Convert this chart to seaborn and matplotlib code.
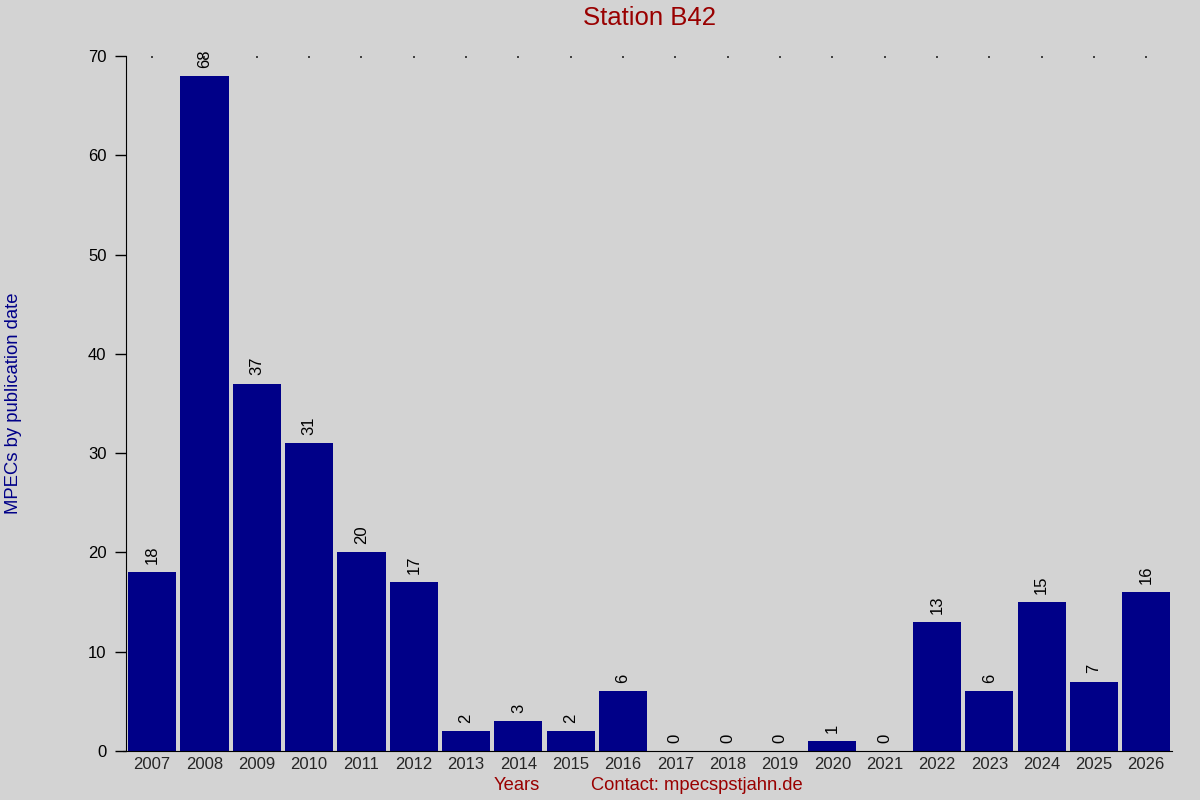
import matplotlib
matplotlib.use("Agg")
import matplotlib.pyplot as plt
import seaborn as sns
import pandas as pd

# --- Data ---
YEARS = ["2007", "2008", "2009", "2010", "2011", "2012", "2013", "2014", "2015", "2016",
         "2017", "2018", "2019", "2020", "2021", "2022", "2023", "2024", "2025", "2026"]
MPECS = [18, 68, 37, 31, 20, 17, 2, 3, 2, 6, 0, 0, 0, 1, 0, 13, 6, 15, 7, 16]
Y_TICKS = [0, 10, 20, 30, 40, 50, 60, 70]

TITLE = "Station B42"
Y_LABEL = "MPECs by publication date"
X_LABEL = "Years"
CONTACT = "Contact: mpecspstjahn.de"

BG = "#d3d3d3"
BAR = "#000088"
RED = "#990000"


def main() -> None:
    sns.set_style("ticks")
    plt.rcParams["font.family"] = ["Liberation Sans", "DejaVu Sans"]

    df = pd.DataFrame({"year": YEARS, "count": MPECS})

    fig = plt.figure(figsize=(12, 8), dpi=100, facecolor=BG)
    ax = fig.add_axes([0.105, 0.06125, 0.872, 0.86875])
    ax.set_facecolor(BG)

    sns.barplot(data=df, x="year", y="count", order=YEARS, color=BAR,
                saturation=1, width=0.92, linewidth=0, ax=ax)

    for container in ax.containers:
        ax.bar_label(container, rotation=90, padding=6, fontsize=12, color="black")

    ax.set_ylim(0, 70)
    ax.set_xlim(-0.5, len(YEARS) - 0.5)
    ax.set_yticks(Y_TICKS)
    ax.tick_params(axis="y", length=8, width=1, labelsize=12, pad=6, colors="black")
    ax.tick_params(axis="x", labelsize=12, pad=4, top=True, bottom=False,
                   direction="in", length=1.2, width=1.2)

    for side in ("top", "right"):
        ax.spines[side].set_visible(False)
    ax.spines["left"].set_color("black")
    ax.spines["bottom"].set_color("black")
    ax.spines["bottom"].set_bounds(-0.56, len(YEARS) - 0.5)

    ax.set_xlabel("")
    ax.set_ylabel("")

    fig.text(0.541, 0.978, TITLE, ha="center", va="center", fontsize=18.5, color=RED)
    fig.text(0.011, 0.496, Y_LABEL, ha="center", va="center", rotation=90,
             fontsize=13.3, color="#000088")
    fig.text(0.431, 0.018, X_LABEL, ha="center", va="center", fontsize=13.2, color=RED)
    fig.text(0.581, 0.018, CONTACT, ha="center", va="center", fontsize=13.2, color=RED)

    fig.savefig("out.png", dpi=100, facecolor=BG)
    plt.close(fig)


if __name__ == "__main__":
    main()
